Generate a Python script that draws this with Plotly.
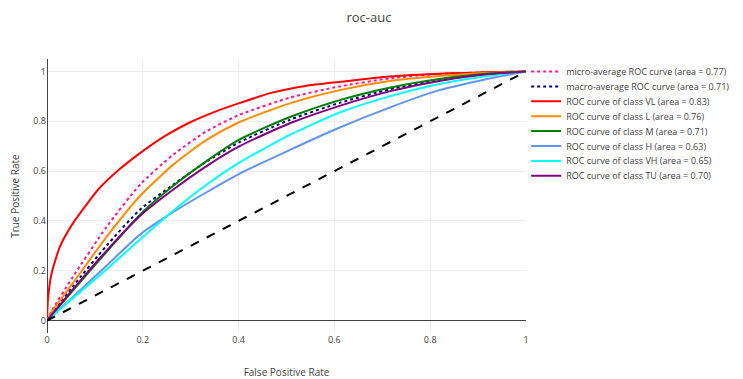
import plotly.graph_objects as go

# ---- data ----
micro_fpr = [0, 0.01, 0.054, 0.124, 0.194, 0.263, 0.333, 0.402, 0.507, 0.611, 0.715, 0.819, 1.0]
micro_tpr = [0, 0.04, 0.175, 0.375, 0.545, 0.665, 0.76, 0.826, 0.895, 0.94, 0.972, 0.99, 1.0]

macro_fpr = [0, 0.054, 0.124, 0.194, 0.263, 0.333, 0.402, 0.507, 0.611, 0.715, 0.819, 0.9, 1.0]
macro_tpr = [0, 0.137, 0.30, 0.445, 0.545, 0.638, 0.716, 0.806, 0.874, 0.928, 0.966, 0.986, 1.0]

vl_fpr = [0, 0.002, 0.009, 0.027, 0.054, 0.082, 0.106, 0.15, 0.2, 0.25, 0.3, 0.35, 0.4, 0.47, 0.54, 0.61, 0.715, 0.82, 1.0]
vl_tpr = [0, 0.084, 0.184, 0.297, 0.39, 0.464, 0.524, 0.605, 0.68, 0.745, 0.797, 0.838, 0.872, 0.915, 0.942, 0.958, 0.98, 0.991, 1.0]

l_fpr = [0, 0.01, 0.054, 0.124, 0.194, 0.263, 0.333, 0.402, 0.507, 0.611, 0.715, 0.819, 0.9, 1.0]
l_tpr = [0, 0.035, 0.15, 0.335, 0.50, 0.625, 0.725, 0.797, 0.872, 0.925, 0.962, 0.982, 0.993, 1.0]

m_fpr = [0, 0.054, 0.124, 0.194, 0.263, 0.333, 0.402, 0.507, 0.611, 0.715, 0.819, 0.9, 1.0]
m_tpr = [0, 0.12, 0.275, 0.425, 0.54, 0.64, 0.727, 0.817, 0.885, 0.935, 0.97, 0.988, 1.0]

h_fpr = [0, 0.054, 0.124, 0.194, 0.263, 0.333, 0.402, 0.507, 0.611, 0.715, 0.819, 0.903, 1.0]
h_tpr = [0, 0.095, 0.22, 0.345, 0.435, 0.515, 0.59, 0.685, 0.775, 0.855, 0.925, 0.963, 1.0]

vh_fpr = [0, 0.054, 0.124, 0.194, 0.263, 0.333, 0.402, 0.507, 0.611, 0.715, 0.819, 0.903, 1.0]
vh_tpr = [0, 0.09, 0.205, 0.325, 0.44, 0.545, 0.635, 0.745, 0.835, 0.9, 0.95, 0.977, 1.0]

tu_fpr = [0, 0.054, 0.124, 0.194, 0.263, 0.333, 0.402, 0.507, 0.611, 0.715, 0.819, 0.9, 1.0]
tu_tpr = [0, 0.125, 0.28, 0.42, 0.525, 0.62, 0.70, 0.792, 0.862, 0.92, 0.962, 0.985, 1.0]

chance_x = [0, 1]
chance_y = [0, 1]

tick_vals = [0, 0.2, 0.4, 0.6, 0.8, 1]
tick_text = ["0", "0.2", "0.4", "0.6", "0.8", "1"]

series = [
    ("micro-average ROC curve (area = 0.77)", micro_fpr, micro_tpr, "deeppink", "dot"),
    ("macro-average ROC curve (area = 0.71)", macro_fpr, macro_tpr, "navy", "dot"),
    ("ROC curve of class VL (area = 0.83)", vl_fpr, vl_tpr, "red", "solid"),
    ("ROC curve of class L (area = 0.76)", l_fpr, l_tpr, "darkorange", "solid"),
    ("ROC curve of class M (area = 0.71)", m_fpr, m_tpr, "green", "solid"),
    ("ROC curve of class H (area = 0.63)", h_fpr, h_tpr, "cornflowerblue", "solid"),
    ("ROC curve of class VH (area = 0.65)", vh_fpr, vh_tpr, "aqua", "solid"),
    ("ROC curve of class TU (area = 0.70)", tu_fpr, tu_tpr, "purple", "solid"),
]

FIG_W, FIG_H = 735, 371   # page places the figure 8px in from the corner
LEGEND_TOP = 49.0         # px from figure top to first legend box
LEGEND_STEP = 14.9        # px between legend rows

fig = go.Figure()
legend_layouts = {}
for i, (name, x, y, color, dash) in enumerate(series):
    key = "legend" if i == 0 else f"legend{i + 1}"
    fig.add_trace(go.Scatter(
        x=x, y=y, mode="lines", name=name, legend=key,
        line=dict(color=color, width=2, dash=dash, shape="spline", smoothing=0.6),
    ))
    legend_layouts[key] = dict(
        x=0.705, y=1 - (LEGEND_TOP + LEGEND_STEP * i) / FIG_H,
        xref="container", yref="container", xanchor="left", yanchor="top",
        font=dict(size=9, color="#444"), bgcolor="rgba(0,0,0,0)", itemwidth=30,
    )
fig.add_trace(go.Scatter(
    x=chance_x, y=chance_y, mode="lines", showlegend=False,
    line=dict(color="black", width=2, dash="dash"),
))

axis_common = dict(
    showgrid=True, gridcolor="#eeeeee", gridwidth=1,
    zeroline=True, zerolinecolor="#444444", zerolinewidth=1,
    showline=False, ticks="", tickfont=dict(size=9, color="#444"),
    title_font=dict(size=10, color="#444"), automargin=True,
)

fig.update_layout(
    width=FIG_W, height=FIG_H,
    paper_bgcolor="white", plot_bgcolor="white",
    font=dict(family="Open Sans, verdana, arial, sans-serif", size=9, color="#444"),
    title=dict(text="roc-auc", x=0.491, xref="container", y=0.9757, yref="container",
               yanchor="middle", font=dict(size=13, color="#444")),
    margin=dict(l=39, r=217, t=50.5, b=45.5, autoexpand=False),
    xaxis=dict(range=[0, 1], title=dict(text="False Positive Rate", standoff=23),
               tickvals=tick_vals, ticktext=tick_text, **axis_common),
    yaxis=dict(range=[-0.05, 1.05], title=dict(text="True Positive Rate", standoff=12),
               tickvals=tick_vals, ticktext=tick_text, **axis_common),
    showlegend=True,
    **legend_layouts,
)

fig.write_html("out.html")
